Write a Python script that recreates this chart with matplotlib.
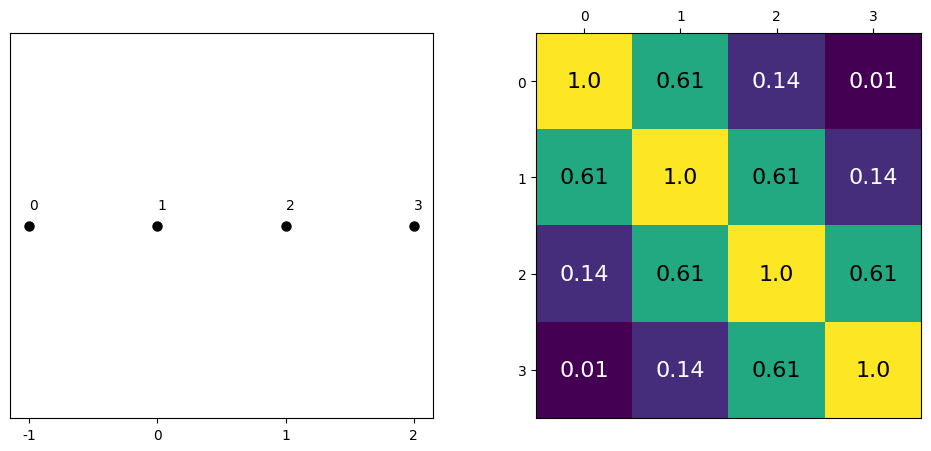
import numpy as np
import matplotlib
matplotlib.use("Agg")
import matplotlib.pyplot as plt

# points on a line and their labels
xs = [-1, 0, 1, 2]
ys = [0, 0, 0, 0]
point_labels = ["0", "1", "2", "3"]

# similarity matrix, values
kernel = np.array([
    [1.0, 0.61, 0.14, 0.01],
    [0.61, 1.0, 0.61, 0.14],
    [0.14, 0.61, 1.0, 0.61],
    [0.01, 0.14, 0.61, 1.0],
])

fig = plt.figure(figsize=(9.31, 4.52), dpi=100)
ax1 = fig.add_axes([10 / 931, 33 / 452, 423 / 931, 385 / 452])
ax2 = fig.add_axes([536 / 931, 33 / 452, 385 / 931, 385 / 452])

ax1.plot(xs, ys, "o", color="black", markersize=6.5)
for x, y, lab in zip(xs, ys, point_labels):
    ax1.annotate(lab, (x, y), xytext=(0, 12), textcoords="offset points")
ax1.set_xticks(xs)
ax1.set_xticklabels([str(x) for x in xs])
ax1.set_yticks([])

ax2.matshow(kernel, cmap="viridis", aspect="auto")
for i in range(kernel.shape[0]):
    for j in range(kernel.shape[1]):
        v = kernel[i, j]
        ax2.text(j, i, str(v), ha="center", va="center", fontsize=16,
                 color="white" if v < 0.5 else "black")
ax2.set_xticks(range(4))
ax2.set_yticks(range(4))
ax2.tick_params(axis="x", bottom=False)

fig.savefig("out.png", dpi=100)
